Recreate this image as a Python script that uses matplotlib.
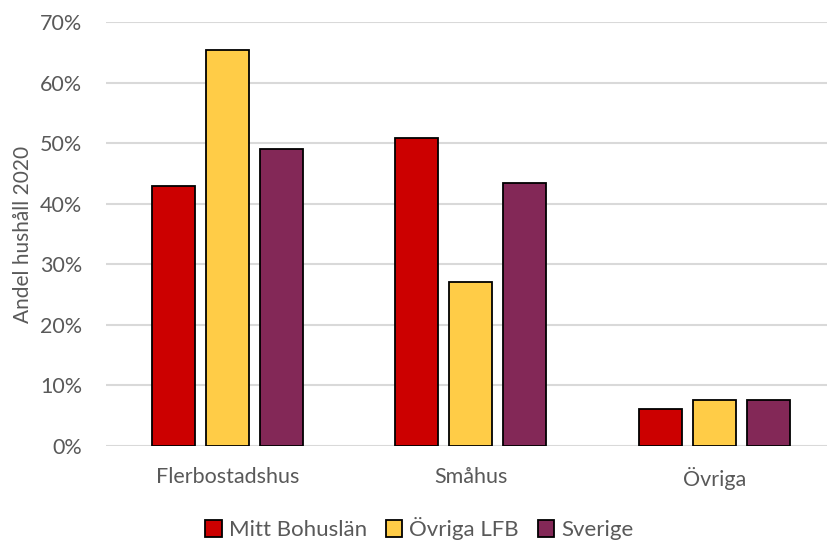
import matplotlib.pyplot as plt
import numpy as np
from matplotlib.ticker import FuncFormatter

# Andel hushåll per hustyp, 2020
kategorier = ["Flerbostadshus", "Småhus", "Övriga"]
serier = ["Mitt Bohuslän", "Övriga LFB", "Sverige"]
mitt_bohuslan = [43.0, 50.9, 6.1]
ovriga_lfb = [65.3, 27.1, 7.55]
sverige = [49.1, 43.4, 7.6]
farger = ["#CC0000", "#FFCC47", "#832857"]

plt.rcParams["font.family"] = ["Lato", "DejaVu Sans"]
textfarg = "#595959"

fig = plt.figure(figsize=(8.27, 5.43), dpi=100)
ax = fig.add_axes([0.128, 0.1786, 0.872, 0.7809])

x = np.arange(len(kategorier))
bredd = 0.177
steg = 0.222
for i, (namn, varden) in enumerate(zip(serier, [mitt_bohuslan, ovriga_lfb, sverige])):
    ax.bar(x + (i - 1) * steg, varden, bredd, color=farger[i], edgecolor="black",
           linewidth=1.3, label=namn, zorder=3)

ax.set_xlim(-0.5, -0.5 + 721 / 243.3)
ax.set_ylim(0, 70)
ax.set_yticks(range(0, 71, 10))
ax.yaxis.set_major_formatter(FuncFormatter(lambda v, p: f"{v:.0f}%"))
ax.set_xticks(x)
ax.set_xticklabels(kategorier)

ax.grid(axis="y", color="#d9d9d9", linewidth=1.5, zorder=0)
for s in ax.spines.values():
    s.set_visible(False)
ax.tick_params(length=0, labelsize=15.5, colors=textfarg)
ax.tick_params(axis="x", pad=15)
ax.tick_params(axis="y", pad=17)
ax.set_ylabel("Andel hushåll 2020", fontsize=15, color=textfarg, labelpad=5)

leg = fig.legend(loc="center", bbox_to_anchor=(0.507, 0.026), ncol=3, frameon=False,
                 fontsize=16, handlelength=0.75, handleheight=0.75, handletextpad=0.3,
                 columnspacing=0.85)
for t in leg.get_texts():
    t.set_color(textfarg)

fig.savefig("out.png", dpi=100)
